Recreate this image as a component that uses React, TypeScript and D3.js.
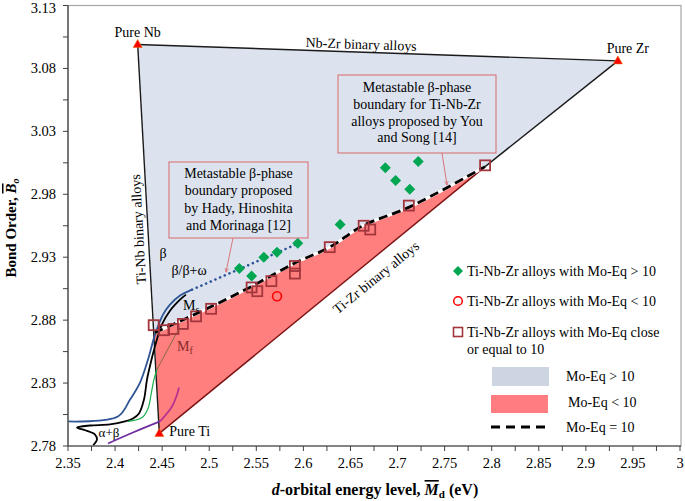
import React from 'react';
import * as d3 from 'd3';

// ---------- data ----------
const xDomain = [2.35, 3.0];
const yDomain = [2.78, 3.13];

const xTickValues = [2.35, 2.4, 2.45, 2.5, 2.55, 2.6, 2.65, 2.7, 2.75, 2.8, 2.85, 2.9, 2.95, 3.0];
const yTickValues = [2.78, 2.83, 2.88, 2.93, 2.98, 3.03, 3.08, 3.13];

const pureNames = ['Pure Nb', 'Pure Zr', 'Pure Ti'];
const pureMd = [2.424, 2.934, 2.447];
const pureBo = [3.099, 3.086, 2.79];

// Ti-Nb-Zr alloys with Mo-Eq > 10
const highMd = [2.532, 2.545, 2.558, 2.572, 2.594, 2.639, 2.687, 2.698, 2.713, 2.722];
const highBo = [2.921, 2.915, 2.93, 2.934, 2.941, 2.956, 3.001, 2.991, 2.984, 3.006];

// Ti-Nb-Zr alloys with Mo-Eq < 10
const lowMd = [2.572];
const lowBo = [2.899];

// Ti-Nb-Zr alloys with Mo-Eq close or equal to 10
const eqMd = [2.441, 2.452, 2.462, 2.472, 2.486, 2.502, 2.545, 2.551, 2.566, 2.591, 2.591, 2.628, 2.664, 2.671, 2.712, 2.793];
const eqBo = [2.876, 2.872, 2.873, 2.877, 2.883, 2.889, 2.906, 2.903, 2.911, 2.923, 2.917, 2.938, 2.955, 2.952, 2.971, 3.003];

// Mo-Eq = 10 boundary (You and Song)
const bndMd = [2.442, 2.5, 2.543, 2.59, 2.628, 2.663, 2.713, 2.793];
const bndBo = [2.87, 2.89, 2.906, 2.925, 2.938, 2.955, 2.97, 3.002];

// Hady et al. boundary (dotted)
const hadyMd = [2.4817, 2.5964];
const hadyBo = [2.9042, 2.9415];

// transus curves
const blueMd = [2.35, 2.403, 2.4159, 2.4265, 2.435, 2.4424, 2.4509, 2.4583, 2.469, 2.4817];
const blueBo = [2.7995, 2.8034, 2.8169, 2.8304, 2.8487, 2.8685, 2.8844, 2.8923, 2.8995, 2.9042];

const blackMd = [2.3766, 2.3808, 2.3787, 2.3691, 2.3596, 2.3734, 2.3946, 2.4105, 2.419, 2.4254, 2.4307, 2.4339, 2.4382, 2.4435, 2.4498, 2.4583, 2.469, 2.4753];
const blackBo = [2.7804, 2.7852, 2.7891, 2.7923, 2.7947, 2.7963, 2.7971, 2.7995, 2.8019, 2.8059, 2.8169, 2.8328, 2.8471, 2.8622, 2.8766, 2.8875, 2.8963, 2.9003];

const greenMd = [2.4137, 2.4286, 2.435, 2.4382, 2.4413, 2.4445];
const greenBo = [2.7995, 2.8026, 2.8098, 2.8209, 2.8329, 2.8408];

const mfMd = [2.4445, 2.4679];
const mfBo = [2.8408, 2.8733];

const purpleMd = [2.3925, 2.419, 2.4477];
const purpleBo = [2.782, 2.7907, 2.7995];
const magentaMd = [2.4477, 2.4605, 2.4658, 2.4679];
const magentaBo = [2.7995, 2.8114, 2.8209, 2.8265];

// ---------- layout ----------
const W = 685;
const H = 501;
const L = 68;
const R = 680;
const T = 5.5;
const B = 446;

const FONT = "'Liberation Serif', 'Times New Roman', 'DejaVu Serif', serif";
const BLUE_FILL = '#DCE3EF';
const RED_FILL = '#FF7F7F';
const GREEN = '#00A651';
const SQ = '#A3363C';

const zip = (a: number[], b: number[]) => a.map((v, i) => [v, b[i]] as [number, number]);

export default function App() {
  const x = d3.scaleLinear().domain(xDomain).range([L, R]);
  const y = d3.scaleLinear().domain(yDomain).range([B, T]);
  const line = d3.line<[number, number]>().x((d) => x(d[0])).y((d) => y(d[1]));
  const smooth = d3.line<[number, number]>().x((d) => x(d[0])).y((d) => y(d[1])).curve(d3.curveCatmullRom.alpha(0.5));

  const nb: [number, number] = [pureMd[0], pureBo[0]];
  const zr: [number, number] = [pureMd[1], pureBo[1]];
  const ti: [number, number] = [pureMd[2], pureBo[2]];
  const bnd = zip(bndMd, bndBo);

  const bluePoly = [nb, zr, ...bnd.slice().reverse()];
  const redPoly = [...bnd, ti];

  const xMinor = d3.range(0, 27).map((i) => 2.35 + i * 0.025);
  const yMinor = d3.range(0, 15).map((i) => 2.78 + i * 0.025);

  const fmt = (v: number) => String(+v.toFixed(2));

  const tri = (cx: number, cy: number, s: number) =>
    `M${cx},${cy - s}L${cx + s * 0.9},${cy + s * 0.6}L${cx - s * 0.9},${cy + s * 0.6}Z`;
  const diamond = (cx: number, cy: number, s: number) =>
    `M${cx},${cy - s}L${cx + s},${cy}L${cx},${cy + s}L${cx - s},${cy}Z`;

  const angNbZr = (Math.atan2(y(zr[1]) - y(nb[1]), x(zr[0]) - x(nb[0])) * 180) / Math.PI;
  const angTiZr = (Math.atan2(y(zr[1]) - y(ti[1]), x(zr[0]) - x(ti[0])) * 180) / Math.PI;
  const angTiNb = (Math.atan2(y(nb[1]) - y(ti[1]), x(nb[0]) - x(ti[0])) * 180) / Math.PI;

  const tiZrSplit = bnd[bnd.length - 1];

  return (
    <svg width={W} height={H} style={{ position: 'absolute', left: 0, top: 0, background: '#fff', fontFamily: FONT }}>
      <defs>
        <marker id="arr" viewBox="0 0 10 10" refX="9" refY="5" markerWidth="5" markerHeight="5" orient="auto">
          <path d="M0,1L10,5L0,9" fill="none" stroke="#D9696B" strokeWidth="1.5" />
        </marker>
      </defs>

      {/* regions */}
      <path d={line(bluePoly) + 'Z'} fill={BLUE_FILL} stroke="none" />
      <path d={line(redPoly) + 'Z'} fill={RED_FILL} stroke="none" />

      {/* triangle edges */}
      <path d={line([nb, zr])!} stroke="#1a1a1a" strokeWidth={1.4} fill="none" />
      <path d={line([ti, nb])!} stroke="#1a1a1a" strokeWidth={1.4} fill="none" />
      <path d={line([tiZrSplit, zr])!} stroke="#1a1a1a" strokeWidth={1.4} fill="none" />
      <path d={line([ti, tiZrSplit])!} stroke="#7A1012" strokeWidth={1.4} fill="none" />

      {/* transus curves */}
      <path d={smooth(zip(blackMd, blackBo))!} stroke="#000" strokeWidth={1.8} fill="none" />
      <path d={smooth(zip(greenMd, greenBo))!} stroke="#19B04A" strokeWidth={1.2} fill="none" />
      <path d={line(zip(mfMd, mfBo))!} stroke="#8A6A3A" strokeWidth={1} fill="none" />
      <path d={smooth(zip(purpleMd, purpleBo))!} stroke="#7030A0" strokeWidth={1.8} fill="none" />
      <path d={smooth(zip(magentaMd, magentaBo))!} stroke="#B8338F" strokeWidth={1.8} fill="none" />
      <path d={smooth(zip(blueMd, blueBo))!} stroke="#2F5597" strokeWidth={1.8} fill="none" />
      <path d={line(zip(hadyMd, hadyBo))!} stroke="#2F5597" strokeWidth={2.6} fill="none" strokeDasharray="0.1,5" strokeLinecap="round" />

      {/* Mo-Eq = 10 boundary */}
      <path d={smooth(bnd)!} stroke="#fff" strokeWidth={3} fill="none" />
      <path d={smooth(bnd)!} stroke="#000" strokeWidth={2.8} fill="none" strokeDasharray="9,5" />

      {/* data markers */}
      {eqMd.map((v, i) => (
        <rect key={'s' + i} x={x(v) - 5} y={y(eqBo[i]) - 5} width={10} height={10} fill="none" stroke={SQ} strokeWidth={1.8} />
      ))}
      {highMd.map((v, i) => (
        <path key={'d' + i} d={diamond(x(v), y(highBo[i]), 5.5)} fill={GREEN} />
      ))}
      {lowMd.map((v, i) => (
        <circle key={'c' + i} cx={x(v)} cy={y(lowBo[i])} r={4.5} fill="none" stroke="#FF0000" strokeWidth={1.6} />
      ))}
      {pureMd.map((v, i) => (
        <path key={'p' + i} d={tri(x(v), y(pureBo[i]), 5)} fill="#FF0000" stroke="#E46C0A" strokeWidth={0.6} />
      ))}

      {/* pure element labels */}
      <text x={x(pureMd[0])} y={37} fontSize={14} textAnchor="middle">{pureNames[0]}</text>
      <text x={x(pureMd[1]) + 10} y={53} fontSize={14} textAnchor="middle">{pureNames[1]}</text>
      <text x={x(pureMd[2]) + 10} y={436} fontSize={14}>{pureNames[2]}</text>

      {/* edge labels */}
      <text transform={`translate(361,49) rotate(${angNbZr})`} fontSize={14} textAnchor="middle">Nb-Zr binary alloys</text>
      <text transform={`translate(143,229) rotate(${angTiNb})`} fontSize={14} textAnchor="middle">Ti-Nb binary alloys</text>
      <text transform={`translate(379,281) rotate(${angTiZr})`} fontSize={14} textAnchor="middle">Ti-Zr binary alloys</text>

      {/* phase labels */}
      <text x={163} y={258} fontSize={14} textAnchor="middle">β</text>
      <text x={189} y={275} fontSize={14} textAnchor="middle">β/β+ω</text>
      <text x={183} y={310} fontSize={14}>M<tspan fontSize={10} dy={3}>s</tspan></text>
      <text x={177} y={351} fontSize={14} fill="#8B2A2A">M<tspan fontSize={10} dy={3}>f</tspan></text>
      <text x={109} y={437} fontSize={13} textAnchor="middle">α+β</text>

      {/* callout boxes */}
      <rect x={169} y={162} width={139} height={76} fill="none" stroke="#D9696B" strokeWidth={1} />
      {['Metastable β-phase', 'boundary proposed', 'by Hady, Hinoshita', 'and Morinaga [12]'].map((t, i) => (
        <text key={'h' + i} x={238.5} y={178 + i * 17.3} fontSize={14} textAnchor="middle">{t}</text>
      ))}
      <line x1={233} y1={238} x2={226} y2={272} stroke="#D9696B" strokeWidth={0.9} markerEnd="url(#arr)" />

      <rect x={338} y={75} width={158} height={78} fill="none" stroke="#D9696B" strokeWidth={1} />
      {['Metastable β-phase', 'boundary for Ti-Nb-Zr', 'alloys proposed by You', 'and Song [14]'].map((t, i) => (
        <text key={'y' + i} x={417} y={92 + i * 16.8} fontSize={14} textAnchor="middle">{t}</text>
      ))}
      <line x1={442} y1={153} x2={447} y2={185} stroke="#D9696B" strokeWidth={0.9} markerEnd="url(#arr)" />

      {/* legend */}
      <path d={diamond(458, 271, 5)} fill={GREEN} />
      <text x={467} y={276} fontSize={14}>Ti-Nb-Zr alloys with Mo-Eq &gt; 10</text>
      <circle cx={458} cy={301} r={4.3} fill="none" stroke="#FF0000" strokeWidth={1.5} />
      <text x={467} y={306} fontSize={14}>Ti-Nb-Zr alloys with Mo-Eq &lt; 10</text>
      <rect x={453.5} y={327.5} width={9} height={9} fill="none" stroke={SQ} strokeWidth={1.6} />
      <text x={467} y={337} fontSize={14}>Ti-Nb-Zr alloys with Mo-Eq close</text>
      <text x={467} y={354} fontSize={14}>or equal to 10</text>
      <rect x={492} y={367} width={57} height={19} fill="#CDD5E2" />
      <text x={566} y={381} fontSize={14}>Mo-Eq &gt; 10</text>
      <rect x={491} y={395} width={57} height={18} fill="#FF7C80" />
      <text x={568} y={407} fontSize={14}>Mo-Eq &lt; 10</text>
      <line x1={491} y1={427} x2={547} y2={427} stroke="#000" strokeWidth={3} strokeDasharray="9,6" />
      <text x={566} y={432} fontSize={14}>Mo-Eq = 10</text>

      {/* frame and axes */}
      <rect x={L} y={T} width={R - L + 1} height={B - T} fill="none" stroke="#A6A6A6" strokeWidth={1.2} />
      <line x1={L} y1={T} x2={L} y2={B} stroke="#404040" strokeWidth={1.2} />
      <line x1={L} y1={B} x2={R + 1} y2={B} stroke="#404040" strokeWidth={1.2} />

      {xMinor.map((v, i) => (
        <line key={'xm' + i} x1={x(v)} x2={x(v)} y1={B} y2={B + 5} stroke="#404040" strokeWidth={1} />
      ))}
      {yMinor.map((v, i) => (
        <line key={'ym' + i} x1={L - 5} x2={L} y1={y(v)} y2={y(v)} stroke="#404040" strokeWidth={1} />
      ))}
      {xTickValues.map((v, i) => (
        <text key={'xt' + i} x={x(v)} y={468} fontSize={14.5} textAnchor="middle">{fmt(v)}</text>
      ))}
      {yTickValues.map((v, i) => (
        <text key={'yt' + i} x={56} y={Math.max(y(v) + 5, 13)} fontSize={14.5} textAnchor="end">{v.toFixed(2)}</text>
      ))}

      {/* axis titles */}
      <text x={375} y={495} fontSize={16} fontWeight="bold" textAnchor="middle">
        <tspan fontStyle="italic">d</tspan>-orbital energy level, <tspan fontStyle="italic" textDecoration="overline">M</tspan>
        <tspan fontSize={11} dy={3}>d</tspan>
        <tspan dy={-3}> (eV)</tspan>
      </text>
      <text transform="translate(16,228) rotate(-90)" fontSize={15} fontWeight="bold" textAnchor="middle">
        Bond Order, <tspan fontStyle="italic" textDecoration="overline">B</tspan>
        <tspan fontSize={10} fontStyle="italic" dy={3}>o</tspan>
      </text>
    </svg>
  );
}
